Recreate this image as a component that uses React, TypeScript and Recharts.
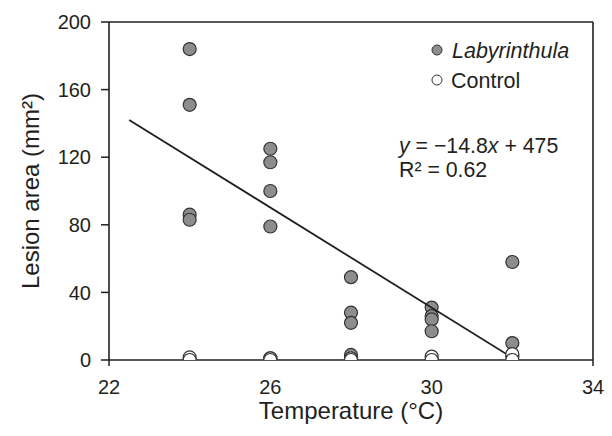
import React from "react";
import {
  ScatterChart,
  Scatter,
  XAxis,
  YAxis,
  ReferenceLine,
  Legend,
  Customized,
} from "recharts";

const FONT = '"Liberation Sans", Arial, Helvetica, sans-serif';
const INK = "#231f20";

// Labyrinthula-inoculated lesion areas
const labyrinthulaTemp = [24, 24, 24, 24, 24, 26, 26, 26, 26, 26, 28, 28, 28, 28, 30, 30, 30, 30, 30, 32, 32, 32];
const labyrinthulaArea = [184, 151, 86, 83, 0, 125, 117, 100, 79, 1, 49, 28, 22, 3, 31, 26, 24, 17, 0, 58, 10, 2];

// Control lesion areas
const controlTemp = [24, 24, 26, 26, 28, 28, 30, 30, 32, 32];
const controlArea = [1.5, 0, 1, 0, 1, 0, 2, 0, 3.5, 0];

// Regression line endpoints (y = -14.8x + 475)
const fitTemp = [22.5, 32];
const fitArea = [142, 1.4];

const xTicks = [22, 26, 30, 34];
const yTicks = [0, 40, 80, 120, 160, 200];

const labData = labyrinthulaTemp.map((t, i) => ({ x: t, y: labyrinthulaArea[i] }));
const ctrlData = controlTemp.map((t, i) => ({ x: t, y: controlArea[i] }));
const fitData = fitTemp.map((t, i) => ({ x: t, y: fitArea[i] }));

const GrayDot = (p: any) => (
  <circle cx={p.cx} cy={p.cy} r={6.5} fill="#8d8d90" stroke="#333" strokeWidth={1.2} />
);
const WhiteDot = (p: any) => (
  <circle cx={p.cx} cy={p.cy} r={6.5} fill="#fff" stroke="#333" strokeWidth={1.2} />
);
const NoDot = () => null;

const TICK_SIZE = 6;
const TICK_MARGIN = 14;

const XTick = (props: any) => {
  const { x, y, payload } = props;
  const axisY = y - TICK_SIZE - TICK_MARGIN;
  const isEnd = payload.value === 22 || payload.value === 34;
  return (
    <g>
      {isEnd && <line x1={x} x2={x} y1={axisY} y2={axisY + 6} stroke={INK} strokeWidth={1.5} />}
      <text x={x} y={y} dy="0.71em" textAnchor="middle" fontSize={20} fill={INK} fontFamily={FONT}>
        {payload.value}
      </text>
    </g>
  );
};

const LegendContent = () => (
  <svg width={180} height={60} style={{ display: "block" }}>
    <circle cx={17} cy={15} r={5} fill="#8d8d90" stroke="#333" strokeWidth={1} />
    <text x={32} y={23} fontSize={21.5} fontStyle="italic" fill={INK} fontFamily={FONT}>
      Labyrinthula
    </text>
    <circle cx={17} cy={45} r={5} fill="#fff" stroke="#333" strokeWidth={1} />
    <text x={31} y={53} fontSize={21.5} fill={INK} fontFamily={FONT}>
      Control
    </text>
  </svg>
);

const Equation = () => (
  <g fontFamily={FONT} fontSize={21.3} fill={INK}>
    <text x={399} y={153}>
      <tspan fontStyle="italic">y</tspan>
      <tspan> = −14.8</tspan>
      <tspan fontStyle="italic">x</tspan>
      <tspan> + 475</tspan>
    </text>
    <text x={399} y={177}>R² = 0.62</text>
  </g>
);

export default function App() {
  return (
    <div style={{ position: "absolute", left: 0, top: 0, background: "#fff" }}>
      <ScatterChart
        width={612}
        height={436}
        margin={{ top: 22, right: 19, bottom: 0, left: 0 }}
        style={{ fontFamily: FONT }}
      >
        <XAxis
          type="number"
          dataKey="x"
          domain={[22, 34]}
          ticks={xTicks}
          height={76}
          tickSize={TICK_SIZE}
          tickMargin={TICK_MARGIN}
          tickLine={false}
          tick={<XTick />}
          axisLine={{ stroke: INK, strokeWidth: 1.6 }}
          allowDataOverflow
          label={{
            value: "Temperature (°C)",
            position: "insideBottom",
            offset: 17,
            fontSize: 24,
            fill: INK,
            fontFamily: FONT,
          }}
        />
        <YAxis
          type="number"
          dataKey="y"
          domain={[0, 200]}
          ticks={yTicks}
          width={109}
          tickSize={8}
          tickMargin={10}
          tick={{ fontSize: 20, fill: INK, fontFamily: FONT }}
          tickLine={{ stroke: INK, strokeWidth: 1.5 }}
          axisLine={{ stroke: INK, strokeWidth: 1.6 }}
          allowDataOverflow
          label={{
            value: "Lesion area (mm²)",
            angle: -90,
            position: "insideLeft",
            offset: 30,
            fontSize: 24,
            fill: INK,
            fontFamily: FONT,
            style: { textAnchor: "middle" },
          }}
        />
        <ReferenceLine y={200} stroke={INK} strokeWidth={1.6} />
        <ReferenceLine x={34} stroke={INK} strokeWidth={1.6} />
        <Scatter name="Labyrinthula" data={labData} shape={<GrayDot />} isAnimationActive={false} />
        <Scatter
          name="fit"
          data={fitData}
          line={{ stroke: INK, strokeWidth: 1.8 }}
          shape={<NoDot />}
          isAnimationActive={false}
          legendType="none"
        />
        <Scatter name="Control" data={ctrlData} shape={<WhiteDot />} isAnimationActive={false} />
        <Legend
          layout="vertical"
          align="center"
          verticalAlign="middle"
          content={<LegendContent />}
          wrapperStyle={{ position: "absolute", left: 420, top: 35, width: 180, height: 60 }}
        />
        <Customized component={<Equation />} />
      </ScatterChart>
    </div>
  );
}
